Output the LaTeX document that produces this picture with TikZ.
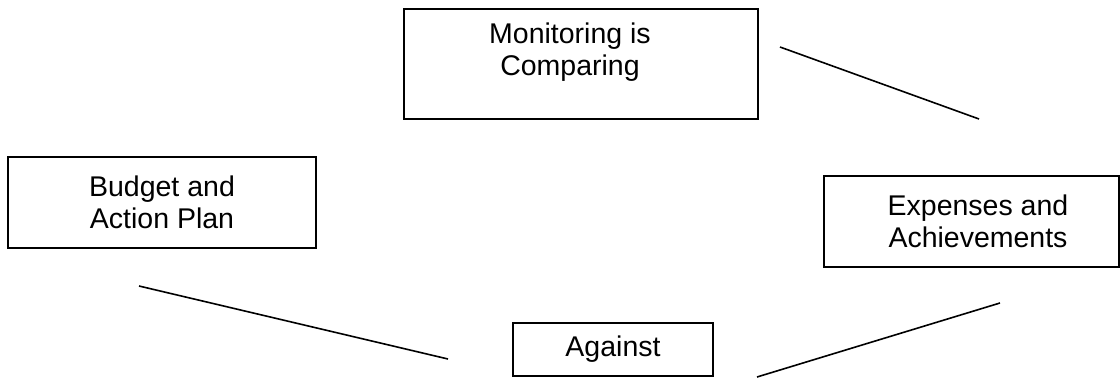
\documentclass[tikz,border=0pt]{standalone}
\usepackage{fontspec}
\setmainfont{Liberation Sans}
\usetikzlibrary{positioning}

\begin{document}
\begin{tikzpicture}[x=1pt,y=-1pt]
\tikzset{box/.style = {shape=rectangle,draw,line width=1.4pt,inner sep=0pt,align=center,font=\fontsize{28.5}{32}\selectfont}}
\tikzset{txt/.style = {inner sep=0pt,align=center,font=\fontsize{28.5}{32}\selectfont}}
\tikzset{edge/.style = {line width=1.6pt}}

\useasboundingbox (0,0) rectangle (1120,378);

\node[box,minimum width=354pt,minimum height=110pt] (monitor) at (581,64) {};
\node[txt] (monitorlbl) at (570,52) {Monitoring is\\Comparing};
\node[box,minimum width=308pt,minimum height=91pt] (budget) at (162,202.5) {Budget and\\Action Plan};
\node[box,minimum width=295pt,minimum height=91pt] (expense) at (971.5,221.5) {};
\node[txt] (expenselbl) at (978,221.5) {Expenses and\\Achievements};
\node[box,minimum width=200pt,minimum height=53pt] (against) at (613,349.5) {Against};

% free ends of the lines
\coordinate (m1) at (780,47);
\coordinate (m2) at (979,119);
\coordinate (b1) at (139,286);
\coordinate (b2) at (448,359);
\coordinate (e1) at (1000,303);
\coordinate (e2) at (757,377);

\foreach \from/\to in {m1/m2, b1/b2, e1/e2}
\draw [edge] (\from) -- (\to);

\end{tikzpicture}
\end{document}
